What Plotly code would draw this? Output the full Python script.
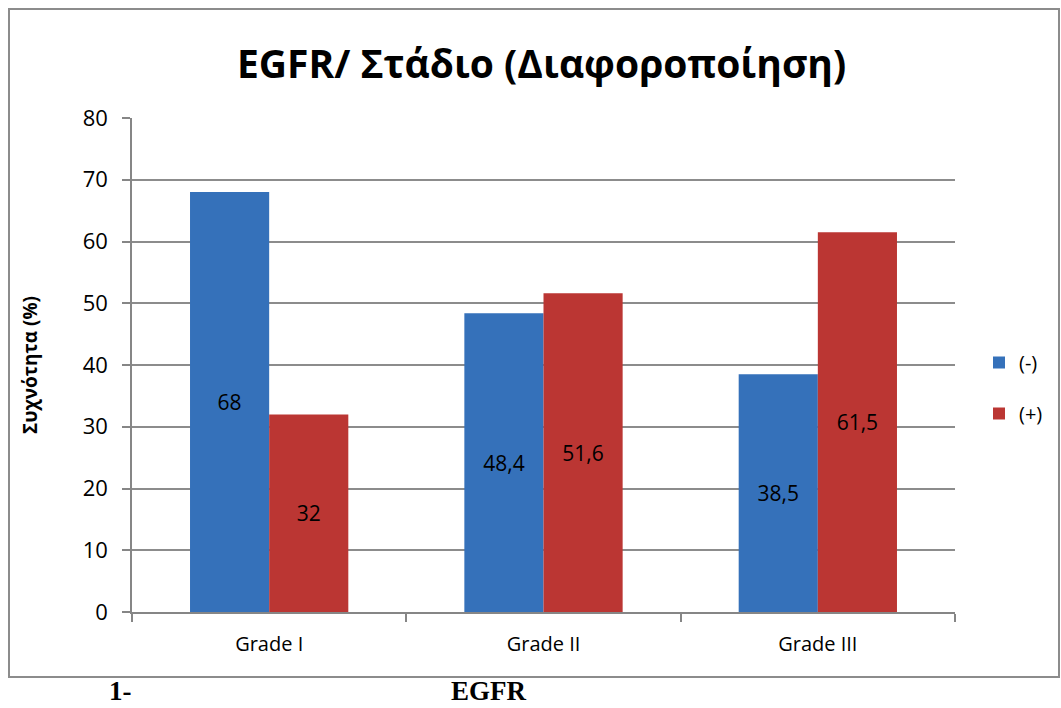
import plotly.graph_objects as go

# Chart data
categories = ["Grade I", "Grade II", "Grade III"]
neg_values = [68, 48.4, 38.5]
pos_values = [32, 51.6, 61.5]
series_names = ["(-)", "(+)"]
y_ticks = [0, 10, 20, 30, 40, 50, 60, 70, 80]

W, H = 1061, 708
L, R, T, B = 132, 955, 118, 612  # plot area in pixels


def px_x(p):
    return (p - L) / (R - L)


def px_y(p):
    return (B - p) / (B - T)


def fmt(v):
    return f"{v:g}".replace(".", ",")


FONT = "Open Sans"

fig = go.Figure()
fig.add_trace(go.Bar(
    x=categories, y=neg_values, name=series_names[0],
    marker=dict(color="#3571BA", line=dict(width=0)),
    text=[fmt(v) for v in neg_values], textposition="inside",
    insidetextanchor="middle", textangle=0,
    textfont=dict(family=FONT, size=21, color="#000000"),
    legendgroup="a",
))
fig.add_trace(go.Bar(
    x=categories, y=pos_values, name=series_names[1],
    marker=dict(color="#BB3633", line=dict(width=0)),
    text=[fmt(v) for v in pos_values], textposition="inside",
    insidetextanchor="middle", textangle=0,
    textfont=dict(family=FONT, size=21, color="#000000"),
    legendgroup="b",
))

fig.update_layout(
    width=W, height=H,
    margin=dict(l=L, r=W - R, t=T, b=H - B, pad=0, autoexpand=False),
    paper_bgcolor="white", plot_bgcolor="white",
    barmode="group", bargap=0.423, bargroupgap=0,
    font=dict(family=FONT, size=18, color="#000000"),
    showlegend=True,
    legend=dict(
        x=px_x(979), y=px_y(343), xanchor="left", yanchor="top",
        font=dict(family=FONT, size=20),
        tracegroupgap=22, traceorder="grouped",
        itemwidth=30,
    ),
    uniformtext=dict(mode=False),
)

fig.update_xaxes(
    showline=True, linecolor="#868686", linewidth=1.5,
    ticks="outside", tickson="boundaries", ticklen=8, tickcolor="#868686",
    tickwidth=1.5, tickfont=dict(family=FONT, size=20), showgrid=False,
    ticklabelstandoff=13,
)
fig.update_yaxes(
    range=[0, 80], tickvals=y_ticks, ticktext=[str(v) for v in y_ticks],
    showline=True, linecolor="#868686", linewidth=1.5,
    ticks="outside", ticklen=8, tickcolor="#868686", tickwidth=1.5,
    showgrid=True, gridcolor="#8C8C8C", gridwidth=1.5,
    tickfont=dict(family=FONT, size=22), zeroline=False,
    ticklabelstandoff=10,
    title=dict(text="<b>Συχνότητα (%)</b>", font=dict(family=FONT, size=19),
               standoff=40),
)

# Outer frame of the chart
fig.add_shape(
    type="rect", xref="paper", yref="paper",
    x0=px_x(9), x1=px_x(1059), y0=px_y(677), y1=px_y(9),
    line=dict(color="#8C8C8C", width=2), fillcolor="rgba(0,0,0,0)",
    layer="below",
)

# Title
fig.add_annotation(
    text="<b>EGFR/ Στάδιο (Διαφοροποίηση)</b>",
    xref="paper", yref="paper", x=px_x(541), y=px_y(63),
    xanchor="center", yanchor="middle", showarrow=False,
    font=dict(family=FONT, size=39, color="#000000"),
)

# Caption below the frame
fig.add_annotation(
    text="<b>1-</b>", xref="paper", yref="paper", x=px_x(108), y=px_y(707),
    xanchor="left", yanchor="bottom", showarrow=False, borderpad=0,
    font=dict(family="Liberation Serif", size=27, color="#000000"),
)
fig.add_annotation(
    text="<b>EGFR</b>", xref="paper", yref="paper", x=px_x(450), y=px_y(707),
    xanchor="left", yanchor="bottom", showarrow=False, borderpad=0,
    font=dict(family="Liberation Serif", size=27, color="#000000"),
)

fig.write_html("out.html")
